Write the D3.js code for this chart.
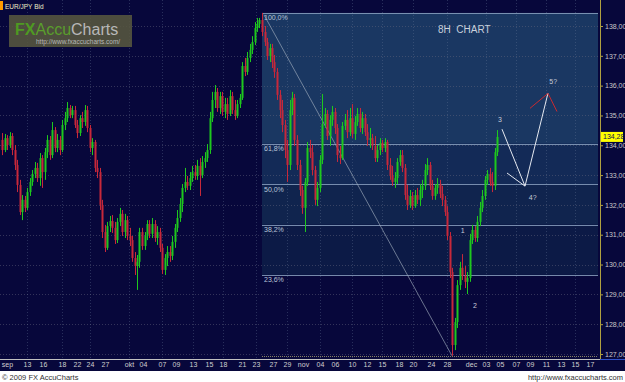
<!DOCTYPE html>
<html><head><meta charset="utf-8">
<script src="https://cdn.jsdelivr.net/npm/d3@7"></script>
<style>html,body{margin:0;padding:0;background:#07073b;overflow:hidden}svg{display:block}text{font-family:"Liberation Sans",Arial,sans-serif}</style>
</head><body><svg id="c" width="625" height="382"></svg>
<script>
// ---- data: 8H EUR/JPY candles [open, high, low, close] ----
const ohlc = [
[134.18,134.41,133.67,133.84],[133.84,134.38,133.77,134.24],[134.24,134.34,133.84,134.01],[134.01,134.44,133.91,134.31],
[134.31,134.41,133.67,133.84],[133.84,134.01,133.17,133.34],[133.34,133.51,132.43,132.67],[132.67,132.84,131.66,131.76],
[131.76,132.33,131.49,132.17],[132.17,132.30,131.76,131.90],[131.90,132.57,131.83,132.43],[132.43,132.90,132.30,132.77],
[132.77,133.17,132.64,133.04],[133.04,133.44,132.90,133.24],[133.24,133.41,132.77,132.90],[132.90,133.74,132.64,133.57],
[133.57,133.67,132.57,133.10],[133.10,133.91,132.84,133.77],[133.77,134.34,133.57,134.18],[134.18,134.31,133.51,133.67],
[133.67,134.78,133.57,134.51],[134.51,134.61,133.77,133.91],[133.91,134.38,133.77,134.18],[134.18,134.31,133.67,133.84],
[133.84,134.85,133.77,134.68],[134.68,135.12,134.51,134.91],[134.91,135.45,134.78,135.25],[135.25,135.35,134.91,135.01],
[135.01,135.32,134.91,135.18],[135.18,135.32,134.58,134.68],[134.68,134.85,134.24,134.41],[134.41,135.01,134.31,134.91],
[134.91,135.12,134.58,134.78],[134.78,135.35,134.65,135.18],[135.18,135.32,134.44,134.58],[134.58,134.68,133.77,133.91],
[133.91,134.24,133.67,134.11],[134.11,134.18,133.10,133.24],[133.24,133.51,132.90,133.10],[133.10,133.24,131.83,132.00],
[132.00,132.17,130.89,131.09],[131.09,131.33,130.42,130.56],[130.56,131.43,130.49,131.29],[131.29,131.63,131.09,131.46],
[131.46,131.66,131.06,131.23],[131.23,131.43,130.69,130.82],[130.82,131.56,130.72,131.43],[131.43,131.90,131.29,131.70],
[131.70,131.83,130.96,131.09],[131.09,131.70,130.89,131.49],[131.49,131.63,130.82,130.96],[130.96,131.23,130.62,130.82],
[130.82,130.96,130.09,130.22],[130.22,130.42,129.65,129.95],[129.95,130.32,129.15,130.09],[130.09,131.23,129.89,131.09],
[131.09,131.23,130.49,130.62],[130.62,131.09,130.49,130.96],[130.96,131.49,130.82,131.36],[131.36,131.49,130.89,131.03],
[131.03,131.56,130.89,131.36],[131.36,131.49,130.76,130.89],[130.89,131.29,130.66,131.09],[131.09,131.23,130.42,130.56],
[130.56,130.69,129.68,129.82],[129.82,130.35,129.65,130.22],[130.22,130.62,129.95,130.42],[130.42,130.62,130.09,130.29],
[130.29,130.96,130.15,130.76],[130.76,131.36,130.56,131.23],[131.23,131.83,131.09,131.56],[131.56,132.23,131.43,132.03],
[132.03,132.70,131.76,132.57],[132.57,133.24,132.43,132.77],[132.77,132.97,132.50,132.64],[132.64,133.10,132.50,132.90],
[132.90,133.31,132.77,133.10],[133.10,133.34,132.84,132.97],[132.97,133.51,132.84,133.31],[133.31,133.57,132.30,133.00],
[133.00,133.64,132.90,133.44],[133.44,133.77,133.24,133.57],[133.57,134.04,133.44,133.84],[133.84,135.12,133.71,134.91],
[134.91,135.79,134.78,135.52],[135.52,136.02,135.25,135.79],[135.79,135.92,135.12,135.25],[135.25,135.79,135.05,135.65],
[135.65,135.79,134.98,135.12],[135.12,135.59,134.91,135.38],[135.38,135.59,134.85,135.05],[135.05,135.85,134.98,135.65],
[135.65,135.79,135.05,135.18],[135.18,135.52,134.85,134.98],[134.98,135.52,134.91,135.38],[135.38,135.72,135.25,135.59],
[135.59,136.79,135.52,136.66],[136.66,136.93,136.32,136.46],[136.46,137.13,136.36,136.93],[136.93,137.40,136.79,137.20],
[137.20,137.66,137.06,137.46],[137.46,138.13,137.36,137.93],[137.93,138.27,137.80,138.07],[138.07,138.27,137.93,138.20],
[138.20,138.44,137.66,137.80],[137.80,138.00,137.33,137.46],[137.46,137.60,136.86,136.99],[136.99,137.40,136.79,137.26],
[137.26,137.40,136.59,136.79],[136.79,137.03,136.26,136.46],[136.46,136.59,135.52,135.69],[135.69,135.85,134.91,135.18],
[135.18,135.52,134.44,134.68],[134.68,134.85,133.57,133.84],[133.84,134.18,132.77,133.34],[133.34,135.52,133.17,135.18],
[135.18,135.79,135.01,135.59],[135.59,135.72,133.98,134.18],[134.18,134.34,133.17,133.34],[133.34,133.51,132.30,132.50],
[132.50,132.64,131.70,131.90],[131.90,132.90,131.09,132.77],[132.77,134.11,132.64,133.91],[133.91,134.18,133.57,133.77],
[133.77,134.01,133.00,133.17],[133.17,133.31,132.00,132.17],[132.17,132.77,131.96,132.57],[132.57,133.67,132.43,133.51],
[133.51,135.72,133.37,134.71],[134.71,135.25,134.58,135.05],[135.05,135.18,134.18,134.31],[134.31,135.01,133.98,134.85],
[134.85,135.32,134.65,135.12],[135.12,135.25,134.38,134.58],[134.58,134.71,133.44,133.67],[133.67,133.98,133.37,133.57],
[133.57,134.78,133.51,134.65],[134.65,135.05,134.51,134.85],[134.85,135.18,134.24,134.44],[134.44,135.25,134.31,134.91],
[134.91,135.38,134.24,134.38],[134.38,134.98,134.18,134.78],[134.78,135.25,134.65,135.05],[135.05,135.25,134.44,134.58],
[134.58,135.12,134.38,134.91],[134.91,135.05,134.31,134.44],[134.44,134.71,133.98,134.18],[134.18,134.58,133.91,134.24],
[134.24,134.38,133.84,133.98],[133.98,134.31,133.44,133.57],[133.57,134.01,133.44,133.84],[133.84,134.24,133.67,134.08],
[134.08,134.18,133.77,133.91],[133.91,134.24,133.77,134.11],[134.11,134.18,133.17,133.34],[133.34,133.57,132.84,132.97],
[132.97,133.31,132.64,132.77],[132.77,133.10,132.57,132.90],[132.90,133.57,132.70,133.44],[133.44,133.84,133.31,133.67],
[133.67,133.84,133.10,133.24],[133.24,133.37,132.17,132.33],[132.33,132.67,131.83,132.00],[132.00,132.50,131.90,132.30],
[132.30,132.43,131.83,131.96],[131.96,132.50,131.90,132.33],[132.33,132.57,132.03,132.17],[132.17,132.70,131.96,132.50],
[132.50,132.84,132.23,132.64],[132.64,133.37,132.50,133.17],[133.17,133.57,133.00,133.34],[133.34,133.44,132.50,132.64],
[132.64,132.84,132.17,132.30],[132.30,132.70,132.17,132.57],[132.57,132.90,132.37,132.70],[132.70,132.84,132.23,132.37],
[132.37,132.64,131.96,132.17],[132.17,132.30,131.63,131.76],[131.76,131.96,130.82,130.96],[130.96,131.09,129.55,129.75],
[129.75,129.89,126.94,127.30],[127.30,128.21,127.13,128.07],[128.07,129.48,127.87,129.31],[129.31,130.09,129.15,129.89],
[129.89,130.35,129.48,129.62],[129.62,129.95,129.21,129.42],[129.42,129.75,129.01,129.55],[129.55,131.03,129.42,130.82],
[130.82,131.33,130.69,131.16],[131.16,131.29,130.76,130.89],[130.89,131.63,130.76,131.43],[131.43,132.10,131.29,131.90],
[131.90,132.50,131.76,132.30],[132.30,132.97,132.17,132.84],[132.84,133.17,132.67,133.04],[133.04,133.24,132.64,132.77],
[132.77,133.10,132.43,132.64],[132.64,133.91,132.50,133.77],[133.77,134.51,133.64,134.28]
];
const priceTicks = [127,128,129,130,131,132,133,134,135,136,137,138];
const timeTickPos = [2,10,16.4,24,30,35.2,41.2,50.8,56.4,64,69.6,76.4,82.8,88.4,96,101.6,108.4,114,120.4,127.2,133.2,140,146,152,158.8,164.4,171.6,178,187.6,193.6,199.2,205.6,211.2,217.6,223.6,229.2,235.2];
const timeTickLabels = ["sep","13","16","18","22","24","27","okt","04","07","09","13","15","18","21","23","27","29","nov","04","06","10","12","15","18","20","24","28","dec","03","05","07","09","11","13","15","17"];
const fibHigh = 138.44, fibLow = 126.94, fibStart = 104, fibEnd = 180;
const fibRatios = [1, 0.618, 0.5, 0.382, 0.236];
const fibLabels = ["100,0%","61,8%","50,0%","38,2%","23,6%"];
const lastPrice = 134.28;
const waveWhite = [[[200,134.54],[209.2,132.63]],[[202,133.07],[209.2,132.63]],[[209.2,132.63],[218.4,135.75]]];
const waveRed = [[211.2,135.24],[218.4,135.74],[222,135.13]];
const waveLabels = [{t:"1",i:184.3,p:131.14},{t:"2",i:189.2,p:128.63},{t:"3",i:199.2,p:134.85},{t:"4?",i:212.3,p:132.26},{t:"5?",i:220.5,p:136.13}];

// ---- drawing ----
const svg = d3.select("#c");
const W = 625, H = 382, axisX = 600, baseY = 359;
const x = d3.scaleLinear().domain([0,240]).range([2,602]);
const y = d3.scaleLinear().domain([127,138]).range([354,26]);
const fmt = d => d.toFixed(2).replace(".", ",");

svg.append("rect").attr("width",W).attr("height",H).attr("fill","#07073b");

// fib shading
const fibY = fibRatios.map(r => y(fibLow + r*(fibHigh-fibLow)));
const shades = ["#1a3762","#132a57","#10244e","#0c1a46"];
const bx0 = x(fibStart), bx1 = axisX - 2;
for (let k=0;k<4;k++){
  svg.append("rect").attr("x",bx0).attr("y",fibY[k]).attr("width",bx1-bx0).attr("height",fibY[k+1]-fibY[k]).attr("fill",shades[k]);
}

// grid
const grid = svg.append("g");
priceTicks.forEach(p=>{
  grid.append("line").attr("x1",0).attr("x2",axisX).attr("y1",Math.round(y(p))+0.5).attr("y2",Math.round(y(p))+0.5)
    .attr("stroke","#6a6a80").attr("stroke-opacity",0.45).attr("stroke-dasharray","1,2");
});
timeTickPos.forEach((t,k)=>{
  if (k%2===1){
    const xx = Math.round(x(t))+0.5;
    grid.append("line").attr("x1",xx).attr("x2",xx).attr("y1",0).attr("y2",baseY)
      .attr("stroke","#6a7a9a").attr("stroke-opacity",0.35).attr("stroke-dasharray","1,2");
  }
});

// fib lines and labels
fibY.forEach((yy,k)=>{
  svg.append("line").attr("x1",bx0).attr("x2",bx1).attr("y1",Math.round(yy)+0.5).attr("y2",Math.round(yy)+0.5)
    .attr("stroke","#8aa0c0").attr("stroke-opacity",0.85).attr("stroke-width",1);
  svg.append("text").attr("x",bx0+2).attr("y",yy+7.5).attr("fill","#b8c4d8").attr("font-size",7).text(fibLabels[k]);
});
svg.append("line").attr("x1",bx0).attr("x2",bx1).attr("y1",Math.round(y(fibLow))+0.5).attr("y2",Math.round(y(fibLow))+0.5)
  .attr("stroke","#a8a070").attr("stroke-dasharray","1,1").attr("stroke-opacity",0.8);
// diagonal trend line
svg.append("line").attr("x1",x(fibStart)+2).attr("y1",y(fibHigh)+2).attr("x2",x(fibEnd)).attr("y2",y(fibLow))
  .attr("stroke","#a4b0c0").attr("stroke-opacity",0.8).attr("stroke-width",0.8);

// candles
const cg = svg.append("g");
ohlc.forEach((d,i)=>{
  const [o,h,l,c] = d;
  const col = c >= o ? "#1ec81e" : "#c8283a";
  const cx = Math.round(x(i));
  cg.append("line").attr("x1",cx+0.5).attr("x2",cx+0.5).attr("y1",y(h)).attr("y2",y(l)).attr("stroke",col).attr("stroke-width",1);
  const top = y(Math.max(o,c)), bot = y(Math.min(o,c));
  cg.append("rect").attr("x",cx-0.5).attr("y",top).attr("width",2).attr("height",Math.max(1,bot-top)).attr("fill",col);
});

// wave annotations
const ln = d3.line().x(d=>x(d[0])).y(d=>y(d[1]));
waveWhite.forEach(s=>svg.append("path").attr("d",ln(s)).attr("fill","none").attr("stroke","#e4e8f0").attr("stroke-width",1));
svg.append("path").attr("d",ln(waveRed)).attr("fill","none").attr("stroke","#c82a30").attr("stroke-width",1);
waveLabels.forEach(w=>svg.append("text").attr("x",x(w.i)).attr("y",y(w.p)).attr("dy","0.35em").attr("text-anchor","middle")
  .attr("fill","#c8ccd8").attr("font-size",7).text(w.t));

// right axis
svg.append("line").attr("x1",axisX+0.5).attr("x2",axisX+0.5).attr("y1",0).attr("y2",baseY).attr("stroke","#b0a040");
const ya = svg.append("g").attr("transform",`translate(${axisX},0)`)
  .call(d3.axisRight(y).tickValues(priceTicks).tickSize(3).tickPadding(2).tickFormat(fmt));
ya.select(".domain").remove();
ya.selectAll("line").attr("stroke","#b0a040");
ya.selectAll("text").attr("fill","#c8c8c8").attr("font-size",7).attr("font-family","Liberation Sans, Arial, sans-serif");

// last price tag
const ly = y(lastPrice);
svg.append("rect").attr("x",axisX+1).attr("y",ly-5).attr("width",22).attr("height",10).attr("fill","#ffff00");
svg.append("text").attr("x",axisX+3).attr("y",ly).attr("dy","0.35em").attr("fill","#101050").attr("font-size",7).text(fmt(lastPrice));

// bottom axis
svg.append("line").attr("x1",0).attr("x2",axisX).attr("y1",baseY+0.5).attr("y2",baseY+0.5).attr("stroke","#c0c0c0");
svg.append("line").attr("x1",axisX).attr("x2",W).attr("y1",baseY+0.5).attr("y2",baseY+0.5).attr("stroke","#3050c8");
const xa = svg.append("g").attr("transform",`translate(0,${baseY})`)
  .call(d3.axisBottom(x).tickValues(timeTickPos).tickSize(0).tickPadding(3).tickFormat((d,i)=>timeTickLabels[i]));
xa.select(".domain").remove();
xa.selectAll("text").attr("fill","#d0d0d0").attr("font-size",7).attr("font-family","Liberation Sans, Arial, sans-serif");

// footer
svg.append("rect").attr("x",0).attr("y",371).attr("width",W).attr("height",11).attr("fill","#ffffff");
svg.append("text").attr("x",2).attr("y",380).attr("fill","#303030").attr("font-size",7.5).text("© 2009 FX AccuCharts");
svg.append("text").attr("x",623).attr("y",380).attr("text-anchor","end").attr("fill","#303030").attr("font-size",7.5).text("http://www.fxaccucharts.com");

// header
svg.append("rect").attr("x",0).attr("y",1).attr("width",3).attr("height",9).attr("fill","#ff9a00");
svg.append("text").attr("x",5).attr("y",9).attr("fill","#f0f0c8").attr("font-size",6.5).text("EUR/JPY Bid");
svg.append("rect").attr("x",9).attr("y",15).attr("width",123).attr("height",32).attr("fill","#55553f").attr("opacity",0.9);
const lg = svg.append("text").attr("x",15).attr("y",35).attr("font-size",16);
lg.append("tspan").attr("fill","#4e9a22").attr("font-weight","bold").text("FX");
lg.append("tspan").attr("fill","#5a9e2c").text("Accu");
lg.append("tspan").attr("fill","#b8b8b8").text("Charts");
svg.append("text").attr("x",36).attr("y",44).attr("fill","#b8b8b8").attr("font-size",6.5).text("http://www.fxaccucharts.com/");
svg.append("text").attr("x",438).attr("y",33).attr("fill","#c8d0dc").attr("font-size",10).attr("xml:space","preserve").text("8H  CHART");
</script></body></html>
